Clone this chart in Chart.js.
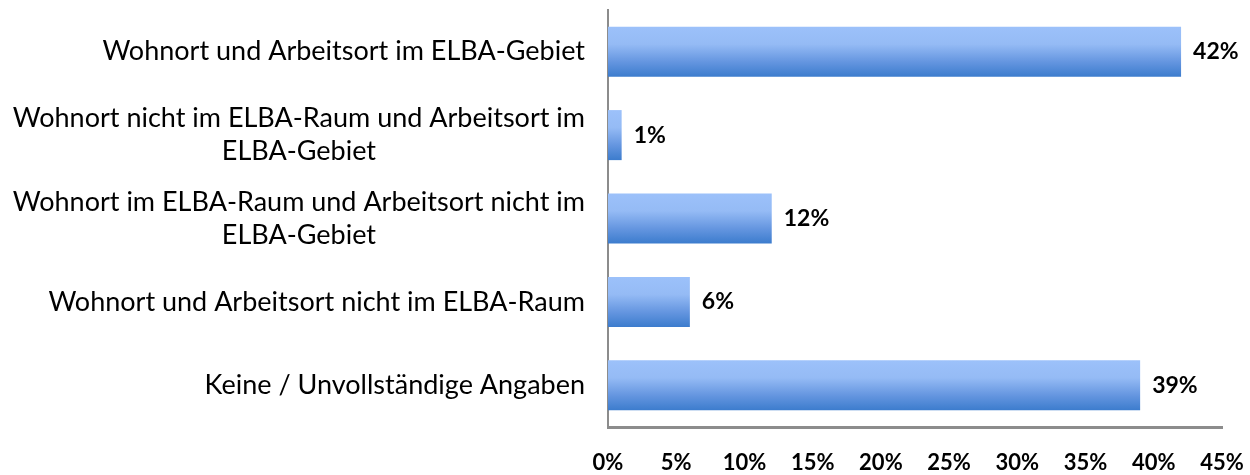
<!DOCTYPE html>
<html><head><meta charset="utf-8">
<script src="https://cdn.jsdelivr.net/npm/chart.js@4.4.1/dist/chart.umd.min.js"></script>
<style>html,body{margin:0;padding:0;background:#fff}#wrap{width:1250px;height:475px}</style>
</head><body><div id="wrap"><canvas id="c" width="1250" height="475"></canvas></div>
<script>
const categories = [
  ["Wohnort und Arbeitsort im ELBA-Gebiet"],
  ["Wohnort nicht im ELBA-Raum und Arbeitsort im", "ELBA-Gebiet"],
  ["Wohnort im ELBA-Raum und Arbeitsort nicht im", "ELBA-Gebiet"],
  ["Wohnort und Arbeitsort nicht im ELBA-Raum"],
  ["Keine / Unvollständige Angaben"]
];
const values = [42, 1, 12, 6, 39];
const valueLabels = ["42%", "1%", "12%", "6%", "39%"];
const xTicks = [0, 5, 10, 15, 20, 25, 30, 35, 40, 45];

const FONT = "Lato, 'Open Sans', sans-serif";

function barFill(ctx) {
  const chart = ctx.chart;
  const area = chart.chartArea;
  const y = chart.scales && chart.scales.y;
  if (!area || !y || ctx.dataIndex === undefined) return '#6a9be0';
  const c = y.getPixelForValue(ctx.dataIndex);
  const h = (area.bottom - area.top) / categories.length * 0.6;
  const g = chart.ctx.createLinearGradient(0, c - h / 2, 0, c + h / 2);
  g.addColorStop(0, '#9cc1fa');
  g.addColorStop(0.35, '#95bbf5');
  g.addColorStop(0.7, '#6596e0');
  g.addColorStop(1, '#3c7ccd');
  return g;
}

const labelPlugin = {
  id: 'labels',
  afterDraw(chart) {
    const ctx = chart.ctx;
    const ys = chart.scales.y, xs = chart.scales.x;
    ctx.save();
    ctx.font = "27px " + FONT;
    ctx.fillStyle = '#000';
    ctx.textBaseline = 'middle';
    ctx.textAlign = 'center';
    const rightEdge = chart.chartArea.left - 23;
    const lh = 33;
    categories.forEach((lines, i) => {
      const cy = ys.getPixelForValue(i);
      const w = Math.max(...lines.map(l => ctx.measureText(l).width));
      const cx = rightEdge - w / 2;
      const y0 = cy - (lines.length - 1) * lh / 2;
      lines.forEach((l, j) => ctx.fillText(l, cx, y0 + j * lh));
    });
    ctx.font = "bold 23px " + FONT;
    ctx.textAlign = 'left';
    values.forEach((v, i) => {
      ctx.fillText(valueLabels[i], xs.getPixelForValue(v) + 12, ys.getPixelForValue(i));
    });
    ctx.restore();
  }
};

new Chart(document.getElementById('c'), {
  type: 'bar',
  data: {
    labels: categories,
    datasets: [{
      data: values,
      backgroundColor: barFill,
      borderWidth: 0,
      barPercentage: 0.6,
      categoryPercentage: 1.0
    }]
  },
  options: {
    indexAxis: 'y',
    responsive: false,
    animation: false,
    devicePixelRatio: 1,
    layout: { padding: { left: 608, right: 28, top: 10, bottom: 0 } },
    plugins: { legend: { display: false }, tooltip: { enabled: false } },
    scales: {
      y: {
        grid: { display: false, drawTicks: false },
        border: { display: true, color: '#8c8c8c', width: 2 },
        ticks: { display: false }
      },
      x: {
        min: 0, max: 45,
        afterBuildTicks(axis) { axis.ticks = xTicks.map(v => ({ value: v })); },
        afterFit(axis) { axis.height = 48; axis.paddingRight = 0; axis.paddingLeft = 0; },
        grid: { display: false, drawTicks: false },
        border: { display: true, color: '#8c8c8c', width: 3 },
        ticks: {
          padding: 23,
          color: '#000',
          font: { family: FONT, size: 22, weight: 'bold' },
          maxRotation: 0,
          autoSkip: false,
          callback: v => v + '%'
        }
      }
    }
  },
  plugins: [labelPlugin]
});
</script></body></html>
